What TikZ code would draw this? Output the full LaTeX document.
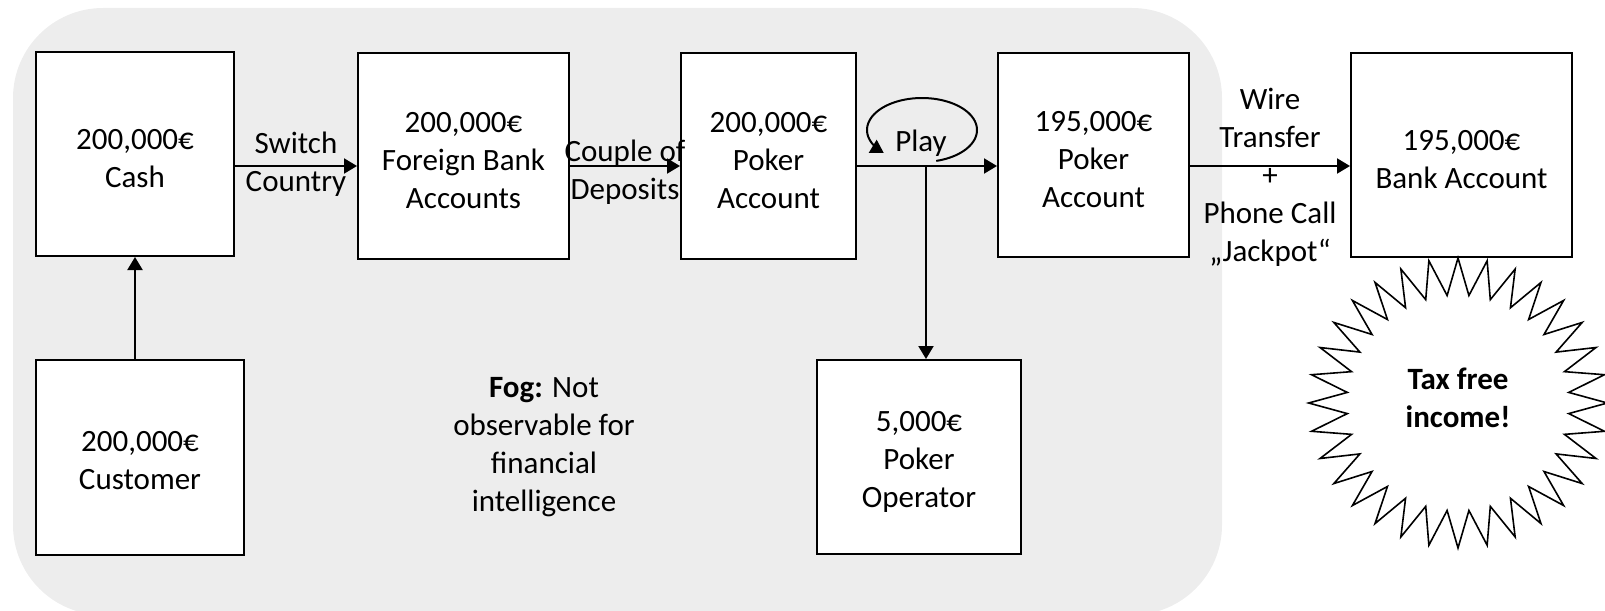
\documentclass[tikz,border=0pt]{standalone}
\usepackage{fontspec}
\setmainfont{Carlito}
\usetikzlibrary{arrows.meta}
\definecolor{fogcol}{HTML}{EDEDED}
\newcommand\mydfont{\fontsize{15.5pt}{19pt}\selectfont}
\tikzset{
  box/.style={draw, line width=1pt, fill=white, inner sep=0pt},
  boxtext/.style={align=center, inner sep=0pt, yshift=-2.5pt},
  lbl/.style={align=center, inner sep=0pt},
  arr/.style={line width=1pt, -{Triangle[length=6.5pt,width=7.5pt]}},
}
\begin{document}
\begin{tikzpicture}[x=0.5pt,y=-0.5pt, font=\mydfont]
\useasboundingbox (0,0) rectangle (1605,610);
\begin{scope}
  \clip (0,0) rectangle (1605,610);
  \fill[fogcol, rounded corners=45pt] (13,8) rectangle (1222,615);
\end{scope}

% boxes
\node[box, minimum width=99pt, minimum height=102pt,
  label={[boxtext]center:{200,000€\\Cash}}] (cash) at (135,154) {};
\node[box, minimum width=104pt, minimum height=97.5pt,
  label={[boxtext, yshift=1pt]center:{200,000€\\Customer}}] (cust) at (140,457.5) {};
\node[box, minimum width=105.5pt, minimum height=103pt,
  label={[boxtext]center:{200,000€\\Foreign Bank\\Accounts}}] (fb) at (463.5,156) {};
\node[box, minimum width=87.5pt, minimum height=103pt,
  label={[boxtext]center:{200,000€\\Poker\\Account}}] (pk1) at (768.5,156) {};
\node[box, minimum width=95.5pt, minimum height=102pt,
  label={[boxtext]center:{195,000€\\Poker\\Account}}] (pk2) at (1093.5,155) {};
\node[box, minimum width=110.5pt, minimum height=102pt,
  label={[boxtext]center:{195,000€\\Bank Account}}] (bank) at (1461.5,155) {};
\node[box, minimum width=102pt, minimum height=97pt,
  label={[boxtext]center:{5,000€\\Poker\\Operator}}] (op) at (919,457) {};

% connectors
\coordinate (ay) at (0,166);
\draw[arr] (cust.north -| cash.south) -- (cash.south);
\draw[arr] (cash.east |- ay) -- (fb.west |- ay);
\draw[arr] (fb.east |- ay) -- (pk1.west |- ay);
\draw[arr] (pk1.east |- ay) -- (pk2.west |- ay);
\draw[arr] (pk2.east |- ay) -- (bank.west |- ay);
\coordinate (split) at (926,166);
\draw[arr] (split) -- (split |- op.north);

% play loop
\node[lbl] (play) at (921,143) {Play};
\draw[arr] plot[variable=\t, domain=-75:226, samples=80]
  ({922+55*cos(\t)}, {130-32*sin(\t)});

% labels
\node[lbl] (sw) at (296,164.5) {Switch\\Country};
\node[lbl] (cd) at (625,172) {Couple of\\Deposits};
\node[lbl] (wt) at (1270,177) {Wire\\Transfer\\+\\Phone Call\\„Jackpot“};
\node[lbl] (fog) at (544,447) {\textbf{Fog:} Not\\observable for\\financial\\intelligence};

% star
\draw[line width=0.8pt, fill=white] plot[variable=\k, samples at={0,...,63}]
  ({1458+1.03*(126.5+18.5*cos(\k*180))*cos(90+\k*5.625)},
   {403-(126.5+18.5*cos(\k*180))*sin(90+\k*5.625)}) -- cycle;
\node[lbl, font=\mydfont\bfseries] (tax) at (1458,398) {Tax free\\income!};
\end{tikzpicture}
\end{document}
